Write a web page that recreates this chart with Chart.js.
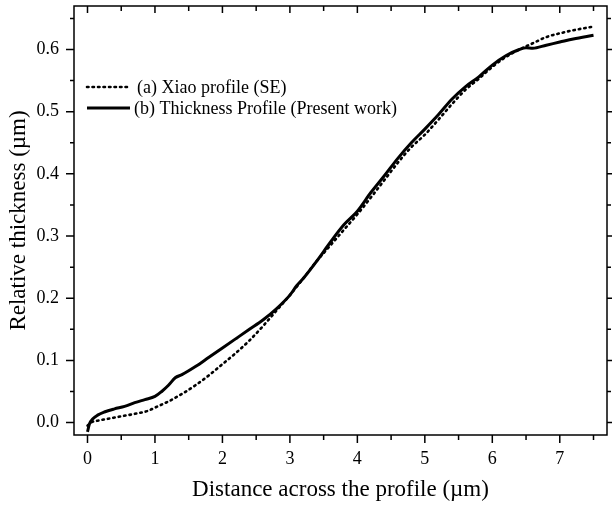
<!DOCTYPE html>
<html><head><meta charset="utf-8">
<script src="https://cdn.jsdelivr.net/npm/chart.js@4.4.1/dist/chart.umd.min.js"></script>
<style>html,body{margin:0;padding:0;background:#fff}#wrap{width:612px;height:506px}</style>
</head><body><div id="wrap"><canvas id="c" width="612" height="506"></canvas></div>
<script>
const seriesLabels = ["(a) Xiao profile (SE)", "(b) Thickness Profile (Present work)"];
const xTicks = [0, 1, 2, 3, 4, 5, 6, 7];
const yTicks = [0.0, 0.1, 0.2, 0.3, 0.4, 0.5, 0.6];
const xTitle = "Distance across the profile (\u00b5m)";
const yTitle = "Relative thickness (\u00b5m)";

const xA = [0, 0.05, 0.15, 0.3, 0.5, 0.7, 0.9, 1.0, 1.2, 1.4, 1.6, 1.8, 2.0, 2.2, 2.4, 2.6, 2.8, 3.0, 3.2, 3.4, 3.6, 3.8, 4.0, 4.2, 4.4, 4.6, 4.8, 5.0, 5.2, 5.4, 5.6, 5.8, 6.0, 6.2, 6.4, 6.6, 6.8, 7.0, 7.2, 7.5];
const yA = [-0.005, 0.0, 0.003, 0.006, 0.01, 0.014, 0.019, 0.024, 0.034, 0.046, 0.06, 0.076, 0.094, 0.112, 0.132, 0.155, 0.18, 0.205, 0.232, 0.26, 0.285, 0.31, 0.335, 0.362, 0.39, 0.418, 0.443, 0.463, 0.487, 0.512, 0.535, 0.553, 0.572, 0.588, 0.6, 0.61, 0.62, 0.626, 0.631, 0.637];

const xB = [0, 0.03, 0.08, 0.15, 0.25, 0.4, 0.55, 0.7, 0.85, 1.0, 1.1, 1.2, 1.3, 1.4, 1.6, 1.8, 2.0, 2.2, 2.4, 2.6, 2.8, 3.0, 3.1, 3.2, 3.4, 3.6, 3.8, 4.0, 4.2, 4.4, 4.6, 4.8, 5.0, 5.2, 5.4, 5.6, 5.8, 6.0, 6.2, 6.4, 6.5, 6.6, 6.8, 7.0, 7.2, 7.5];
const yB = [-0.015, -0.002, 0.006, 0.012, 0.017, 0.022, 0.026, 0.032, 0.037, 0.042, 0.05, 0.06, 0.072, 0.077, 0.09, 0.105, 0.12, 0.135, 0.15, 0.165, 0.183, 0.205, 0.22, 0.232, 0.26, 0.29, 0.318, 0.34, 0.37, 0.397, 0.425, 0.45, 0.472, 0.495, 0.52, 0.54, 0.556, 0.575, 0.59, 0.6, 0.603, 0.602, 0.607, 0.612, 0.617, 0.623];

const FONT = "'Liberation Serif', 'Times New Roman', serif";
const toPts = (xs, ys) => xs.map((x, i) => ({x: x, y: ys[i]}));

const frame = {
  id: 'frame',
  afterDraw(chart) {
    const ctx = chart.ctx, a = chart.chartArea;
    const xs = chart.scales.x, ys = chart.scales.y;
    ctx.save();
    ctx.strokeStyle = '#000';
    ctx.lineWidth = 1.5;
    ctx.strokeRect(a.left, a.top, a.right - a.left, a.bottom - a.top);
    ctx.beginPath();
    const xMinor = xTicks.map(v => v + 0.5);
    const yMinor = yTicks.map(v => +(v + 0.05).toFixed(2));
    xTicks.forEach(v => { const p = xs.getPixelForValue(v);
      ctx.moveTo(p, a.bottom); ctx.lineTo(p, a.bottom + 8);
      ctx.moveTo(p, a.top); ctx.lineTo(p, a.top + 7); });
    xMinor.forEach(v => { if (v > xs.max) return; const p = xs.getPixelForValue(v);
      ctx.moveTo(p, a.bottom); ctx.lineTo(p, a.bottom + 5);
      ctx.moveTo(p, a.top); ctx.lineTo(p, a.top + 5); });
    yTicks.forEach(v => { const p = ys.getPixelForValue(v);
      ctx.moveTo(a.left, p); ctx.lineTo(a.left - 8, p);
      ctx.moveTo(a.right, p); ctx.lineTo(a.right + 6, p); });
    yMinor.forEach(v => { if (v > ys.max) return; const p = ys.getPixelForValue(v);
      ctx.moveTo(a.left, p); ctx.lineTo(a.left - 4, p);
      ctx.moveTo(a.right, p); ctx.lineTo(a.right + 4, p); });
    ctx.stroke();
    // legend
    ctx.font = "18px " + FONT;
    ctx.fillStyle = '#000';
    ctx.textBaseline = 'middle';
    const rows = [{y: 87, ds: chart.data.datasets[0], tx: 137}, {y: 108, ds: chart.data.datasets[1], tx: 134}];
    rows.forEach(r => {
      ctx.beginPath();
      ctx.lineWidth = r.ds.borderWidth;
      ctx.setLineDash(r.ds.borderDash || []);
      ctx.lineCap = r.ds.borderCapStyle || 'butt';
      ctx.moveTo(87, r.y); ctx.lineTo(130, r.y);
      ctx.stroke();
      ctx.setLineDash([]);
      ctx.fillText(r.ds.label, r.tx, r.y + 1);
    });
    ctx.restore();
  }
};

new Chart(document.getElementById('c'), {
  type: 'scatter',
  data: {
    datasets: [
      {label: seriesLabels[0], data: toPts(xA, yA), showLine: true, borderColor: '#000', borderWidth: 2.6,
       borderDash: [1.5, 4], borderCapStyle: 'round', pointRadius: 0, cubicInterpolationMode: 'monotone', fill: false},
      {label: seriesLabels[1], data: toPts(xB, yB), showLine: true, borderColor: '#000', borderWidth: 3,
       pointRadius: 0, cubicInterpolationMode: 'monotone', fill: false}
    ]
  },
  options: {
    responsive: false, animation: false,
    layout: {padding: {top: 6, right: 5, left: 0, bottom: 0}},
    plugins: {legend: {display: false}, tooltip: {enabled: false}},
    scales: {
      x: {type: 'linear', min: -0.2, max: 7.7,
        afterBuildTicks: s => { s.ticks = xTicks.map(v => ({value: v})); },
        afterFit: s => { s.height = 71; s.paddingLeft = 0; s.paddingRight = 0; },
        grid: {display: false, drawTicks: false}, border: {display: false},
        ticks: {padding: 13, color: '#000', font: {family: FONT, size: 18}, maxRotation: 0, callback: v => String(v)},
        title: {display: true, text: xTitle, color: '#000', font: {family: FONT, size: 23}, padding: {top: 0, bottom: 2}}
      },
      y: {type: 'linear', min: -0.02, max: 0.67,
        afterBuildTicks: s => { s.ticks = yTicks.map(v => ({value: v})); },
        afterFit: s => { s.width = 74; s.paddingTop = 0; s.paddingBottom = 0; },
        grid: {display: false, drawTicks: false}, border: {display: false},
        ticks: {padding: 15, color: '#000', font: {family: FONT, size: 18}, callback: v => v.toFixed(1)},
        title: {display: true, text: yTitle, color: '#000', font: {family: FONT, size: 23}, padding: {top: 5, bottom: 0}}
      }
    }
  },
  plugins: [frame]
});
</script></body></html>
